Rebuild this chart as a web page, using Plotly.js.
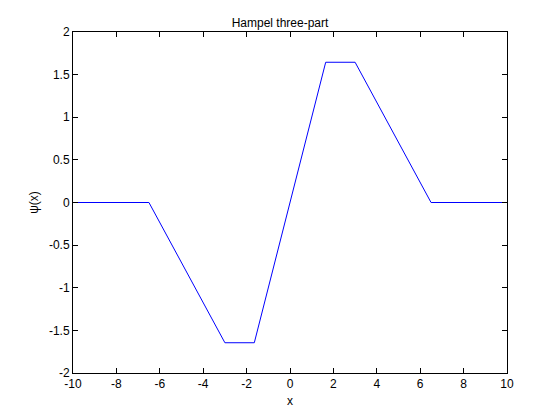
<!DOCTYPE html>
<html>
<head>
<meta charset="utf-8">
<script src="https://cdn.plot.ly/plotly-3.0.1.min.js"></script>
<style>html,body{margin:0;padding:0;background:#fff;}#chart{width:560px;height:420px;}</style>
</head>
<body>
<div id="chart"></div>
<script>
// Breakpoints of the Hampel three-part psi function
var xValues = [-10, -6.5, -3, -1.645, 1.645, 3, 6.5, 10];
var psiValues = [0, 0, -1.645, -1.645, 1.645, 1.645, 0, 0];
var xTicks = [-10, -8, -6, -4, -2, 0, 2, 4, 6, 8, 10];
var yTicks = [-2, -1.5, -1, -0.5, 0, 0.5, 1, 1.5, 2];

var font = {family: 'Liberation Sans, Arial, sans-serif', size: 12, color: '#000'};
var axisCommon = {
  showline: true, linecolor: '#000', linewidth: 1, mirror: 'allticks',
  ticks: 'inside', ticklen: 5, tickwidth: 1, tickcolor: '#000',
  showgrid: false, zeroline: false, tickfont: font
};

Plotly.newPlot('chart', [{
  x: xValues, y: psiValues, type: 'scatter', mode: 'lines',
  line: {color: '#0000ff', width: 1}, hoverinfo: 'none'
}], {
  width: 560, height: 420,
  paper_bgcolor: '#fff', plot_bgcolor: '#fff',
  margin: {l: 73, r: 53, t: 32, b: 47},
  font: font,
  showlegend: false,
  title: {text: 'Hampel three-part', font: font, x: 0.5, xanchor: 'center', y: 1, yref: 'paper', yanchor: 'bottom', pad: {b: 5}},
  xaxis: Object.assign({}, axisCommon, {
    range: [-10, 10], tickvals: xTicks, ticktext: xTicks.map(String),
    title: {text: 'x', font: font, standoff: 6}
  }),
  yaxis: Object.assign({}, axisCommon, {
    range: [-2, 2], tickvals: yTicks, ticktext: yTicks.map(String),
    title: {text: 'ψ(x)', font: font, standoff: 7}
  })
}, {staticPlot: true});
</script>
</body>
</html>
